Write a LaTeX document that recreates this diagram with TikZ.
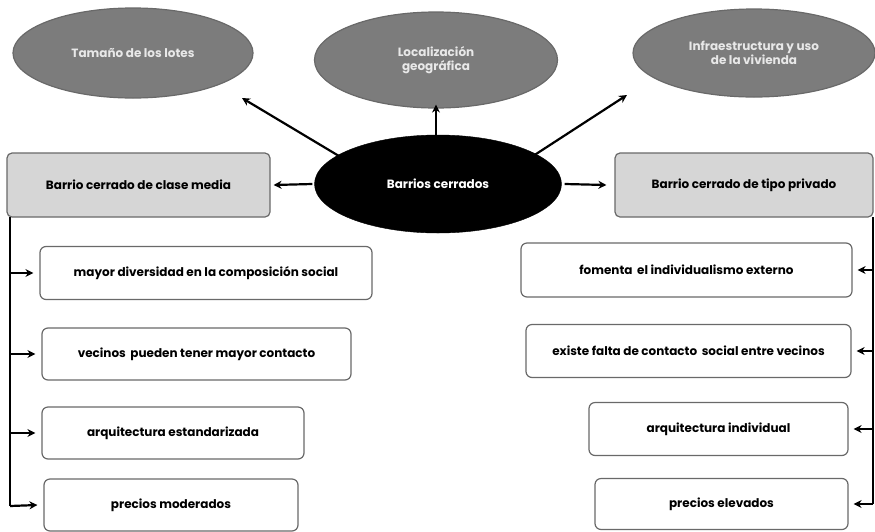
\documentclass[tikz,border=0pt]{standalone}
\usepackage{fontspec}
\setsansfont{Poppins}
\usetikzlibrary{shapes.geometric,arrows.meta}

\definecolor{ovalgray}{RGB}{124,124,124}
\definecolor{ovaltext}{RGB}{232,232,232}
\definecolor{headgray}{RGB}{214,214,214}
\definecolor{rimgray}{RGB}{105,105,105}

\begin{document}
\begin{tikzpicture}[x=1pt,y=-1pt,
    font=\sffamily\bfseries\fontsize{12}{14}\selectfont,
    oval/.style={ellipse, draw=rimgray, line width=1.2pt, fill=ovalgray, text=ovaltext, align=center, inner sep=0pt},
    hub/.style={ellipse, draw=black, fill=black, text=white, inner sep=0pt},
    headbox/.style={draw=rimgray, line width=1.2pt, fill=headgray, rounded corners=5pt, inner sep=0pt},
    itembox/.style={draw=rimgray, line width=1.2pt, fill=white, rounded corners=6pt, inner sep=0pt},
    link/.style={line width=2.2pt, -{Stealth[length=8pt,width=8pt]}}]

            \useasboundingbox (0,0) rectangle (875,531);

            \node[oval, minimum width=240pt, minimum height=90pt] (lotes) at (133,53) {Tamaño de los lotes};
            \node[oval, minimum width=243pt, minimum height=96pt] (geo) at (436,60) {Localización\\geográfica};
            \node[oval, minimum width=242pt, minimum height=88pt] (infra) at (754,53) {Infraestructura y uso\\de la vivienda};

            \node[hub, minimum width=247pt, minimum height=98pt] (barrios) at (438,184) {Barrios cerrados};

            \node[headbox, minimum width=263pt, minimum height=64pt] (media) at (138.5,185) {Barrio cerrado de clase media};
            \node[headbox, minimum width=258pt, minimum height=64pt] (privado) at (744,185) {Barrio cerrado de tipo privado};

            \draw[link] ([xshift=-2pt]barrios.west) -- ([xshift=3pt]media.east);
            \draw[link] ([xshift=3pt]barrios.east) -- ([xshift=-8pt]privado.west);
            \draw[link] ([yshift=-2pt]barrios.north -| geo.south) -- ([yshift=4pt]geo.south);
            \draw[link, shorten <=-8pt] (barrios.164) -- (242,98);
            \draw[link, shorten <=-6pt] (barrios.17) -- (627,95);

            \node[itembox, minimum width=332pt, minimum height=53pt] (diversidad) at (206,273) {mayor diversidad en la composición social};
            \node[itembox, minimum width=309pt, minimum height=52pt] (contacto) at (196.5,354) {vecinos\, pueden tener mayor contacto};
            \node[itembox, minimum width=262pt, minimum height=52pt] (estandar) at (173,433) {arquitectura estandarizada};
            \node[itembox, minimum width=254pt, minimum height=52pt] (moderados) at (171,505) {precios moderados};

            \coordinate (ltop) at (10,217);
            \coordinate (lbottom) at (10,506);
            \draw[line width=2.2pt] (ltop) -- (lbottom);
            \draw[link] (ltop |- diversidad.west) -- ([xshift=-6pt]diversidad.west);
            \draw[link] (ltop |- contacto.west) -- ([xshift=-6pt]contacto.west);
            \draw[link] (ltop |- estandar.west) -- ([xshift=-6pt]estandar.west);
            \draw[link] (lbottom) -- ([xshift=-6pt]moderados.west);

            \node[itembox, minimum width=331pt, minimum height=54pt] (individualismo) at (686.5,270) {fomenta\, el individualismo externo};
            \node[itembox, minimum width=325pt, minimum height=53pt] (falta) at (688.5,351) {existe falta de contacto\, social entre vecinos};
            \node[itembox, minimum width=259pt, minimum height=53pt] (individual) at (718.5,429) {arquitectura individual};
            \node[itembox, minimum width=253pt, minimum height=51pt] (elevados) at (721.5,504) {precios elevados};

            \coordinate (rtop) at (873,217);
            \coordinate (rbottom) at (873,504);
            \draw[line width=2.2pt] (rtop) -- (rbottom);
            \draw[link] (rtop |- individualismo.east) -- ([xshift=5pt]individualismo.east);
            \draw[link] (rtop |- falta.east) -- ([xshift=5pt]falta.east);
            \draw[link] (rtop |- individual.east) -- ([xshift=5pt]individual.east);
            \draw[link] (rbottom) -- ([xshift=5pt]elevados.east);

\end{tikzpicture}
\end{document}
